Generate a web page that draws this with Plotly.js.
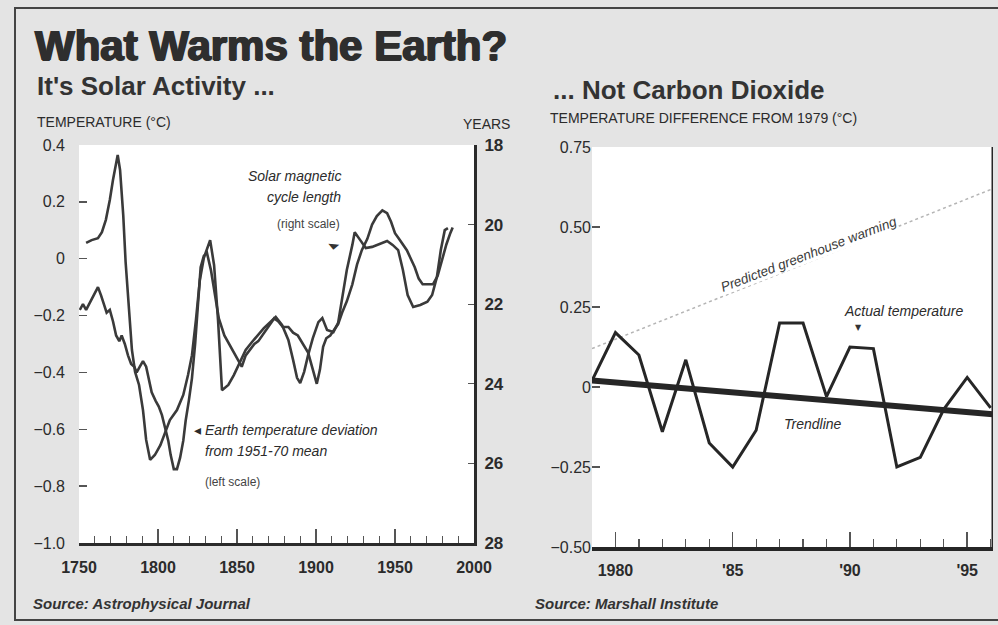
<!DOCTYPE html>
<html>
<head>
<meta charset="utf-8">
<script src="https://cdn.plot.ly/plotly-3.0.1.min.js"></script>
<style>
  html, body { margin: 0; padding: 0; background: #e4e4e4; }
  #chart { width: 998px; height: 625px; }
</style>
</head>
<body>
<div id="chart"></div>
<script>
// ---------- DATA ----------
// Left panel: Earth temperature deviation from 1951-70 mean (°C, left scale)
const tempYears = [1750.5,1752.5,1754.5,1756.5,1758,1760,1762,1764,1766,1767.5,1769.5,1771.5,1773.5,1775.5,1777,1779,1781,1783,1785,1786.5,1788.5,1790.5,1792.5,1794.5,1796,1798.5,1800.5,1802.5,1804.5,1806.5,1808,1810,1812,1814,1816,1817.5,1819.5,1821.5,1823.5,1825.5,1827,1829,1831,1833.5,1836,1838.5,1842,1845,1848,1850.5,1853,1855.5,1858,1861,1863.5,1866,1868.5,1871,1873.5,1876,1879,1882.5,1885.5,1888.5,1892,1895,1898,1900.5,1902.5,1904.5,1906.5,1909,1911.5,1914,1916.5,1919.5,1923,1926,1929,1932.5,1935.5,1938.5,1942,1945,1947.5,1950,1952.5,1955,1957.5,1960,1962.5,1965,1967.5,1971,1974,1977,1979.5,1982.5,1985,1986.5];
const tempValues = [-0.18,-0.16,-0.18,-0.16,-0.14,-0.12,-0.10,-0.13,-0.16,-0.19,-0.18,-0.22,-0.27,-0.29,-0.27,-0.30,-0.34,-0.37,-0.38,-0.40,-0.38,-0.36,-0.38,-0.43,-0.47,-0.50,-0.52,-0.55,-0.60,-0.64,-0.69,-0.74,-0.74,-0.70,-0.64,-0.57,-0.50,-0.42,-0.30,-0.15,-0.03,0.01,0.02,-0.04,-0.13,-0.21,-0.27,-0.30,-0.33,-0.36,-0.38,-0.34,-0.32,-0.30,-0.29,-0.27,-0.25,-0.23,-0.21,-0.22,-0.24,-0.24,-0.26,-0.27,-0.30,-0.33,-0.39,-0.44,-0.39,-0.31,-0.28,-0.27,-0.25,-0.23,-0.19,-0.15,-0.09,-0.02,0.03,0.07,0.12,0.15,0.17,0.16,0.13,0.09,0.07,0.05,0.03,0.00,-0.03,-0.07,-0.09,-0.09,-0.09,-0.06,-0.01,0.05,0.09,0.11];

// Left panel: Solar magnetic cycle length (years, right scale)
const solarYears = [1754.5,1758,1762,1764.5,1767,1769.5,1771.5,1773.5,1774.5,1776,1778,1779.5,1781.5,1783.5,1785.5,1788,1790.5,1792.5,1795,1798,1801.5,1804.5,1807.5,1812,1816,1819,1821.5,1824,1826.5,1829,1833,1835.5,1838,1840.5,1844.5,1848,1852,1855.5,1859.5,1863.5,1867,1871,1874.5,1878.5,1882.5,1885.5,1888,1890,1892.5,1895,1898,1901.5,1904,1907,1911,1914,1917,1919.5,1923,1924.5,1928,1931.5,1935.5,1940.5,1945,1948.5,1952,1955,1958,1961.5,1966,1970.5,1973.5,1976.5,1979,1981.5,1983.5];
const solarValues = [20.46,20.39,20.34,20.19,19.88,19.38,18.88,18.50,18.25,18.63,19.76,20.94,22.15,23.15,23.70,24.03,24.66,25.41,25.91,25.79,25.54,25.21,24.91,24.66,24.28,23.78,23.28,22.40,21.39,20.84,20.39,21.02,22.40,24.16,24.03,23.78,23.45,23.15,22.95,22.77,22.60,22.45,22.32,22.52,22.90,23.40,23.85,23.98,23.70,23.28,22.85,22.45,22.35,22.65,22.70,22.47,21.77,21.14,20.51,20.19,20.39,20.59,20.56,20.49,20.41,20.51,20.64,21.14,21.77,22.07,22.02,21.94,21.77,21.32,20.64,20.14,20.09];

// Right panel: temperature difference from 1979 (°C)
const actualYears  = [1979,1980,1981,1982,1983,1984,1985,1986,1987,1988,1989,1990,1991,1992,1993,1994,1995,1996];
const actualValues = [0.02,0.17,0.10,-0.14,0.085,-0.175,-0.25,-0.135,0.20,0.20,-0.03,0.125,0.12,-0.25,-0.22,-0.07,0.03,-0.065];
const trendYears  = [1979, 1996.1];
const trendValues = [0.02, -0.085];
const predictedYears  = [1979, 1996.1];
const predictedValues = [0.12, 0.62];

// Tick labels
const leftTempTicks   = [-1.0,-0.8,-0.6,-0.4,-0.2,0,0.2,0.4];
const leftTempLabels  = ['\u22121.0','\u22120.8','\u22120.6','\u22120.4','\u22120.2','0','0.2','0.4'];
const cycleTicks      = [18,20,22,24,26,28];
const cycleLabels     = ['18','20','22','24','26','28'];
const centuryTicks    = [1750,1800,1850,1900,1950,2000];
const centuryLabels   = ['1750','1800','1850','1900','1950','2000'];
const recentTicks     = [1980,1985,1990,1995];
const recentLabels    = ['1980',"'85","'90","'95"];
const diffTicks       = [-0.5,-0.25,0,0.25,0.5,0.75];
const diffLabels      = ['\u22120.50','\u22120.25','0','0.25','0.50','0.75'];

// ---------- LAYOUT ----------
const W = 998, H = 625;
const px = v => v / W;
const py = v => 1 - v / H;
const FONT = 'Liberation Sans, Arial, sans-serif';
const INK = '#2b2b2b';

const traces = [
  { x: tempYears, y: tempValues, xaxis: 'x', yaxis: 'y', mode: 'lines',
    line: { color: '#3a3a3a', width: 2.6 }, name: 'Earth temperature', hoverinfo: 'skip' },
  { x: solarYears, y: solarValues, xaxis: 'x', yaxis: 'y2', mode: 'lines',
    line: { color: '#3a3a3a', width: 2.6 }, name: 'Solar cycle length', hoverinfo: 'skip' },
  { x: predictedYears, y: predictedValues, xaxis: 'x2', yaxis: 'y3', mode: 'lines',
    line: { color: '#b5b5b5', width: 1.5, dash: 'dot' }, name: 'Predicted', hoverinfo: 'skip' },
  { x: trendYears, y: trendValues, xaxis: 'x2', yaxis: 'y3', mode: 'lines',
    line: { color: '#262626', width: 6 }, name: 'Trendline', hoverinfo: 'skip' },
  { x: actualYears, y: actualValues, xaxis: 'x2', yaxis: 'y3', mode: 'lines',
    line: { color: '#262626', width: 3 }, name: 'Actual', hoverinfo: 'skip' }
];

const leftYDom  = [py(543), py(145)];
const rightYDom = [py(547), py(147)];

const layout = {
  width: W, height: H,
  margin: { l: 0, r: 0, t: 0, b: 0 },
  paper_bgcolor: '#e4e4e4',
  plot_bgcolor: '#ffffff',
  showlegend: false,
  font: { family: FONT, color: INK },
  title: {
    text: '<b>What Warms the Earth?</b>',
    x: px(35), xanchor: 'left', xref: 'paper',
    y: py(45), yanchor: 'middle', yref: 'container',
    font: { size: 42, family: FONT, color: '#2e2e2e', shadow: '1px 0 0 #2e2e2e, -1px 0 0 #2e2e2e, 0 1px 0 #2e2e2e' }
  },
  xaxis: {
    domain: [px(79), px(474)], range: [1750, 2000], anchor: 'y',
    showgrid: false, zeroline: false,
    showline: true, linecolor: '#2b2b2b', linewidth: 3,
    ticks: 'inside', ticklen: 14, tickwidth: 1.5, tickcolor: '#555',
    tickvals: centuryTicks, ticktext: centuryLabels,
    minor: { dtick: 10, ticks: 'inside', ticklen: 7, tickwidth: 1.3, tickcolor: '#555' },
    ticklabelstandoff: 8,
    tickfont: { size: 16, family: FONT, color: INK, weight: 'bold' }
  },
  yaxis: {
    domain: leftYDom, range: [-1.0, 0.4], anchor: 'x',
    showgrid: false, zeroline: false, showline: false,
    ticks: 'inside', ticklen: 8, tickwidth: 1.3, tickcolor: '#555',
    tickvals: leftTempTicks, ticktext: leftTempLabels,
    ticklabelstandoff: 13,
    tickfont: { size: 16, family: FONT, color: INK }
  },
  yaxis2: {
    overlaying: 'y', side: 'right', anchor: 'x', range: [28, 18],
    showgrid: false, zeroline: false,
    showline: true, linecolor: '#2b2b2b', linewidth: 3,
    ticks: 'inside', ticklen: 6, tickwidth: 1.3, tickcolor: '#555',
    tickvals: cycleTicks, ticktext: cycleLabels,
    ticklabelstandoff: 4,
    tickfont: { size: 17, family: FONT, color: INK, weight: 'bold' }
  },
  xaxis2: {
    domain: [px(592), px(993)], range: [1979, 1996.1], anchor: 'y3',
    showgrid: false, zeroline: false,
    showline: true, linecolor: '#262626', linewidth: 4,
    ticks: 'inside', ticklen: 15, tickwidth: 1.5, tickcolor: '#555',
    tickvals: recentTicks, ticktext: recentLabels,
    minor: { dtick: 1, ticks: 'inside', ticklen: 8, tickwidth: 1.3, tickcolor: '#555' },
    ticklabelstandoff: 6,
    tickfont: { size: 16, family: FONT, color: INK, weight: 'bold' }
  },
  yaxis3: {
    domain: rightYDom, range: [-0.5, 0.75], anchor: 'x2',
    showgrid: false, zeroline: false, showline: false,
    ticks: 'inside', ticklen: 8, tickwidth: 1.3, tickcolor: '#555',
    tickvals: diffTicks, ticktext: diffLabels,
    ticklabelstandoff: 0,
    tickfont: { size: 16, family: FONT, color: INK }
  },
  shapes: [
    // right-hand frame line of the right panel
    { type: 'line', xref: 'x2', yref: 'y3', x0: 1996.1, x1: 1996.1, y0: -0.5, y1: 0.75,
      line: { color: '#262626', width: 3 } },
    // outer frame of the graphic
    { type: 'rect', xref: 'paper', yref: 'paper', x0: px(15), x1: px(1003), y0: py(620), y1: py(8),
      line: { color: '#444', width: 2 } }
  ],
  annotations: [
    { text: "<b>It's Solar Activity ...</b>", x: px(35), y: py(86), xref: 'paper', yref: 'paper',
      xanchor: 'left', yanchor: 'middle', showarrow: false,
      font: { size: 26, family: FONT, color: '#333' } },
    { text: '<b>... Not Carbon Dioxide</b>', x: px(551), y: py(90), xref: 'paper', yref: 'paper',
      xanchor: 'left', yanchor: 'middle', showarrow: false,
      font: { size: 26, family: FONT, color: '#333' } },
    { text: 'TEMPERATURE (°C)', x: px(35), y: py(122), xref: 'paper', yref: 'paper',
      xanchor: 'left', yanchor: 'middle', showarrow: false,
      font: { size: 14, family: FONT, color: INK } },
    { text: 'YEARS', x: px(512), y: py(124), xref: 'paper', yref: 'paper',
      xanchor: 'right', yanchor: 'middle', showarrow: false,
      font: { size: 14, family: FONT, color: INK } },
    { text: 'TEMPERATURE DIFFERENCE FROM 1979 (°C)', x: px(548), y: py(118), xref: 'paper', yref: 'paper',
      xanchor: 'left', yanchor: 'middle', showarrow: false,
      font: { size: 14, family: FONT, color: INK } },
    // left panel labels
    { text: '<i>Solar magnetic</i>', x: px(343), y: py(176), xref: 'paper', yref: 'paper',
      xanchor: 'right', yanchor: 'middle', showarrow: false,
      font: { size: 14, family: FONT, color: INK } },
    { text: '<i>cycle length</i>', x: px(343), y: py(197), xref: 'paper', yref: 'paper',
      xanchor: 'right', yanchor: 'middle', showarrow: false,
      font: { size: 14, family: FONT, color: INK } },
    { text: '(right scale)', x: px(342), y: py(224), xref: 'paper', yref: 'paper',
      xanchor: 'right', yanchor: 'middle', showarrow: false,
      font: { size: 12, family: FONT, color: '#444' } },
    { text: '\u25C2 <i>Earth temperature deviation</i>', x: px(192), y: py(430), xref: 'paper', yref: 'paper',
      xanchor: 'left', yanchor: 'middle', showarrow: false,
      font: { size: 14, family: FONT, color: INK } },
    { text: '<i>from 1951-70 mean</i>', x: px(203), y: py(451), xref: 'paper', yref: 'paper',
      xanchor: 'left', yanchor: 'middle', showarrow: false,
      font: { size: 14, family: FONT, color: INK } },
    { text: '(left scale)', x: px(203), y: py(482), xref: 'paper', yref: 'paper',
      xanchor: 'left', yanchor: 'middle', showarrow: false,
      font: { size: 12, family: FONT, color: '#444' } },
    // small solid arrowhead for "solar" label
    { text: '\u25E3', x: px(333), y: py(243), xref: 'paper', yref: 'paper',
      xanchor: 'center', yanchor: 'middle', showarrow: false, textangle: -40,
      font: { size: 10, family: 'DejaVu Sans', color: '#333' } },
    // right panel labels
    { text: '<i>Predicted greenhouse warming</i>', x: px(808), y: py(254), xref: 'paper', yref: 'paper',
      xanchor: 'center', yanchor: 'middle', showarrow: false, textangle: -21,
      bgcolor: '#ffffff', borderpad: 0,
      font: { size: 13.5, family: FONT, color: '#3a3a3a' } },
    { text: '<i>Actual temperature</i>', x: px(903), y: py(311), xref: 'paper', yref: 'paper',
      xanchor: 'center', yanchor: 'middle', showarrow: false,
      font: { size: 14, family: FONT, color: INK } },
    { text: '\u25BC', x: px(858), y: py(327), xref: 'paper', yref: 'paper',
      xanchor: 'center', yanchor: 'middle', showarrow: false,
      font: { size: 8, family: 'DejaVu Sans', color: '#333' } },
    { text: '<i>Trendline</i>', x: px(782), y: py(424), xref: 'paper', yref: 'paper',
      xanchor: 'left', yanchor: 'middle', showarrow: false,
      font: { size: 14, family: FONT, color: INK } },
    // sources
    { text: '<b><i>Source: Astrophysical Journal</i></b>', x: px(31), y: py(603), xref: 'paper', yref: 'paper',
      xanchor: 'left', yanchor: 'middle', showarrow: false,
      font: { size: 15, family: FONT, color: '#333' } },
    { text: '<b><i>Source: Marshall Institute</i></b>', x: px(533), y: py(603), xref: 'paper', yref: 'paper',
      xanchor: 'left', yanchor: 'middle', showarrow: false,
      font: { size: 15, family: FONT, color: '#333' } }
  ]
};

Plotly.newPlot('chart', traces, layout, { staticPlot: true, displayModeBar: false });
</script>
</body>
</html>
